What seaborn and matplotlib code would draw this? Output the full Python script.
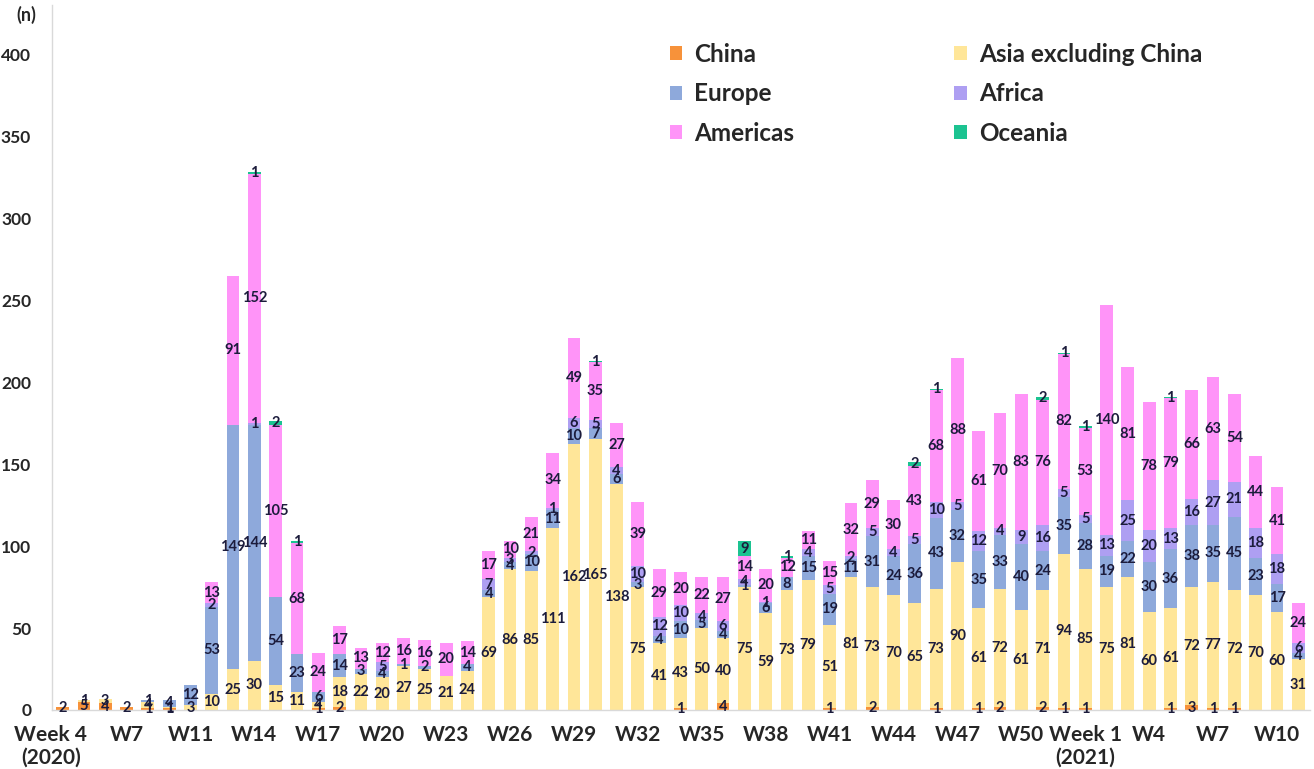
import matplotlib
matplotlib.use('Agg')
import matplotlib.pyplot as plt
import matplotlib.transforms as mtransforms
from matplotlib.patches import Patch
import seaborn as sns
import numpy as np

# ---------- data ----------
weeks = ([f"2020-W{w}" for w in [4, 5, 6, 7, 8, 9] + list(range(11, 53))]
         + [f"2021-W{w}" for w in range(1, 12)])

tick_labels = ['Week 4\n(2020)', 'W7', 'W11', 'W14', 'W17', 'W20', 'W23', 'W26', 'W29',
               'W32', 'W35', 'W38', 'W41', 'W44', 'W47', 'W50', 'Week 1\n(2021)',
               'W4', 'W7', 'W10']

china = [2, 5, 4, 2, 1, 1, 0, 0, 0, 0, 0, 0, 1, 2, 0, 0, 0, 0, 0, 0,
         0, 0, 0, 0, 0, 0, 0, 0, 0, 1, 0, 4, 0, 0, 0, 0, 1, 0, 2, 0,
         0, 1, 0, 1, 2, 0, 2, 1, 1, 0, 0, 0, 1, 3, 1, 1, 0, 0, 0]
asia = [0, 1, 3, 0, 4, 1, 3, 10, 25, 30, 15, 11, 4, 18, 22, 20, 27, 25, 21, 24,
        69, 86, 85, 111, 162, 165, 138, 75, 41, 43, 50, 40, 75, 59, 73, 79, 51, 81, 73, 70,
        65, 73, 90, 61, 72, 61, 71, 94, 85, 75, 81, 60, 61, 72, 77, 72, 70, 60, 31]
europe = [0, 0, 0, 0, 1, 4, 12, 53, 149, 144, 54, 23, 6, 14, 3, 4, 1, 2, 0, 4,
          4, 4, 10, 11, 10, 7, 6, 3, 4, 10, 5, 4, 1, 6, 8, 15, 19, 11, 31, 24,
          36, 43, 32, 35, 33, 40, 24, 35, 28, 19, 22, 30, 36, 38, 35, 45, 23, 17, 4]
africa = [0, 0, 0, 0, 0, 0, 0, 2, 0, 1, 0, 0, 0, 0, 0, 5, 0, 0, 0, 0,
          7, 3, 2, 1, 6, 5, 4, 10, 12, 10, 4, 6, 4, 1, 0, 4, 5, 2, 5, 4,
          5, 10, 5, 12, 4, 9, 16, 5, 5, 13, 25, 20, 13, 16, 27, 21, 18, 18, 6]
americas = [0, 0, 0, 0, 0, 0, 0, 13, 91, 152, 105, 68, 24, 17, 13, 12, 16, 16, 20, 14,
            17, 10, 21, 34, 49, 35, 27, 39, 29, 20, 22, 27, 14, 20, 12, 11, 15, 32, 29, 30,
            43, 68, 88, 61, 70, 83, 76, 82, 53, 140, 81, 78, 79, 66, 63, 54, 44, 41, 24]
oceania = [0, 0, 0, 0, 0, 0, 0, 0, 0, 1, 2, 1, 0, 0, 0, 0, 0, 0, 0, 0,
           0, 0, 0, 0, 0, 1, 0, 0, 0, 0, 0, 0, 9, 0, 1, 0, 0, 0, 0, 0,
           2, 1, 0, 0, 0, 0, 2, 1, 1, 0, 0, 0, 1, 0, 0, 0, 0, 0, 0]

series_names = ['China', 'Asia excluding China', 'Europe', 'Africa', 'Americas', 'Oceania']
series_vals = [china, asia, europe, africa, americas, oceania]
colors = ['#F7923A', '#FFE699', '#8EA9DB', '#AE9FF2', '#FF94F8', '#1CC391']

# ---------- style ----------
sns.set_style('white')
plt.rcParams['font.family'] = ['Lato', 'DejaVu Sans']
plt.rcParams['font.weight'] = 'bold'

fig = plt.figure(figsize=(13.14, 7.69), dpi=100)
ax = fig.add_axes([52 / 1314, 59 / 769, 1258 / 1314, 705 / 769])

# stacked bars: draw cumulative totals from the top layer down
vals = np.array(series_vals)
cum = np.cumsum(vals, axis=0)
for k in range(len(series_names) - 1, -1, -1):
    sns.barplot(x=weeks, y=cum[k], color=colors[k], saturation=1, width=0.6,
                errorbar=None, linewidth=0, ax=ax)

# data labels in the middle of every segment
for k in range(len(series_names)):
    bottoms = cum[k] - vals[k]
    for i, v in enumerate(vals[k]):
        if v > 0:
            ax.text(i, bottoms[i] + v / 2, str(v), ha='center', va='center',
                    fontsize=10.5, fontweight='bold', color='#1c1c3c')

# ---------- axes ----------
ax.set_xlim(-0.5, len(weeks) - 0.45)
ax.set_ylim(0, 430)
ax.set_yticks(np.arange(0, 401, 50))
ax.set_yticklabels([str(t) for t in range(0, 401, 50)], fontsize=12.5, fontweight='bold')
ax.set_xticks(range(0, len(weeks), 3))
ax.set_xticklabels(tick_labels, fontsize=15, fontweight='bold', linespacing=1.15)
ax.tick_params(axis='x', length=0, pad=11)
ax.tick_params(axis='y', length=0, pad=15)
ax.set_xlabel('')
ax.set_ylabel('')

# first label sits a little left, as in the original
first = ax.get_xticklabels()[0]
first.set_transform(first.get_transform() +
                    mtransforms.ScaledTranslation(-12 / 100, 0, fig.dpi_scale_trans))

for side in ['top', 'right']:
    ax.spines[side].set_visible(False)
for side in ['left', 'bottom']:
    ax.spines[side].set_color('#d9d9d9')
    ax.spines[side].set_linewidth(1)

fig.text(26 / 1314, 1 - 15 / 769, '(n)', ha='center', va='center',
         fontsize=13, fontweight='bold')

# legend (row-wise order with two columns)
handles = [Patch(facecolor=c, edgecolor='none', label=n) for n, c in zip(series_names, colors)]
order = [0, 2, 4, 1, 3, 5]
ax.legend([handles[i] for i in order], [series_names[i] for i in order],
          ncol=2, frameon=False, loc='upper left',
          bbox_to_anchor=(660 / 1314, 1 - 33 / 769), bbox_transform=fig.transFigure,
          prop={'size': 17.5, 'weight': 'bold'}, handlelength=0.5, handleheight=0.5,
          handletextpad=0.5, labelspacing=0.68, columnspacing=6.6, borderaxespad=0)

fig.savefig('out.png', dpi=100)
